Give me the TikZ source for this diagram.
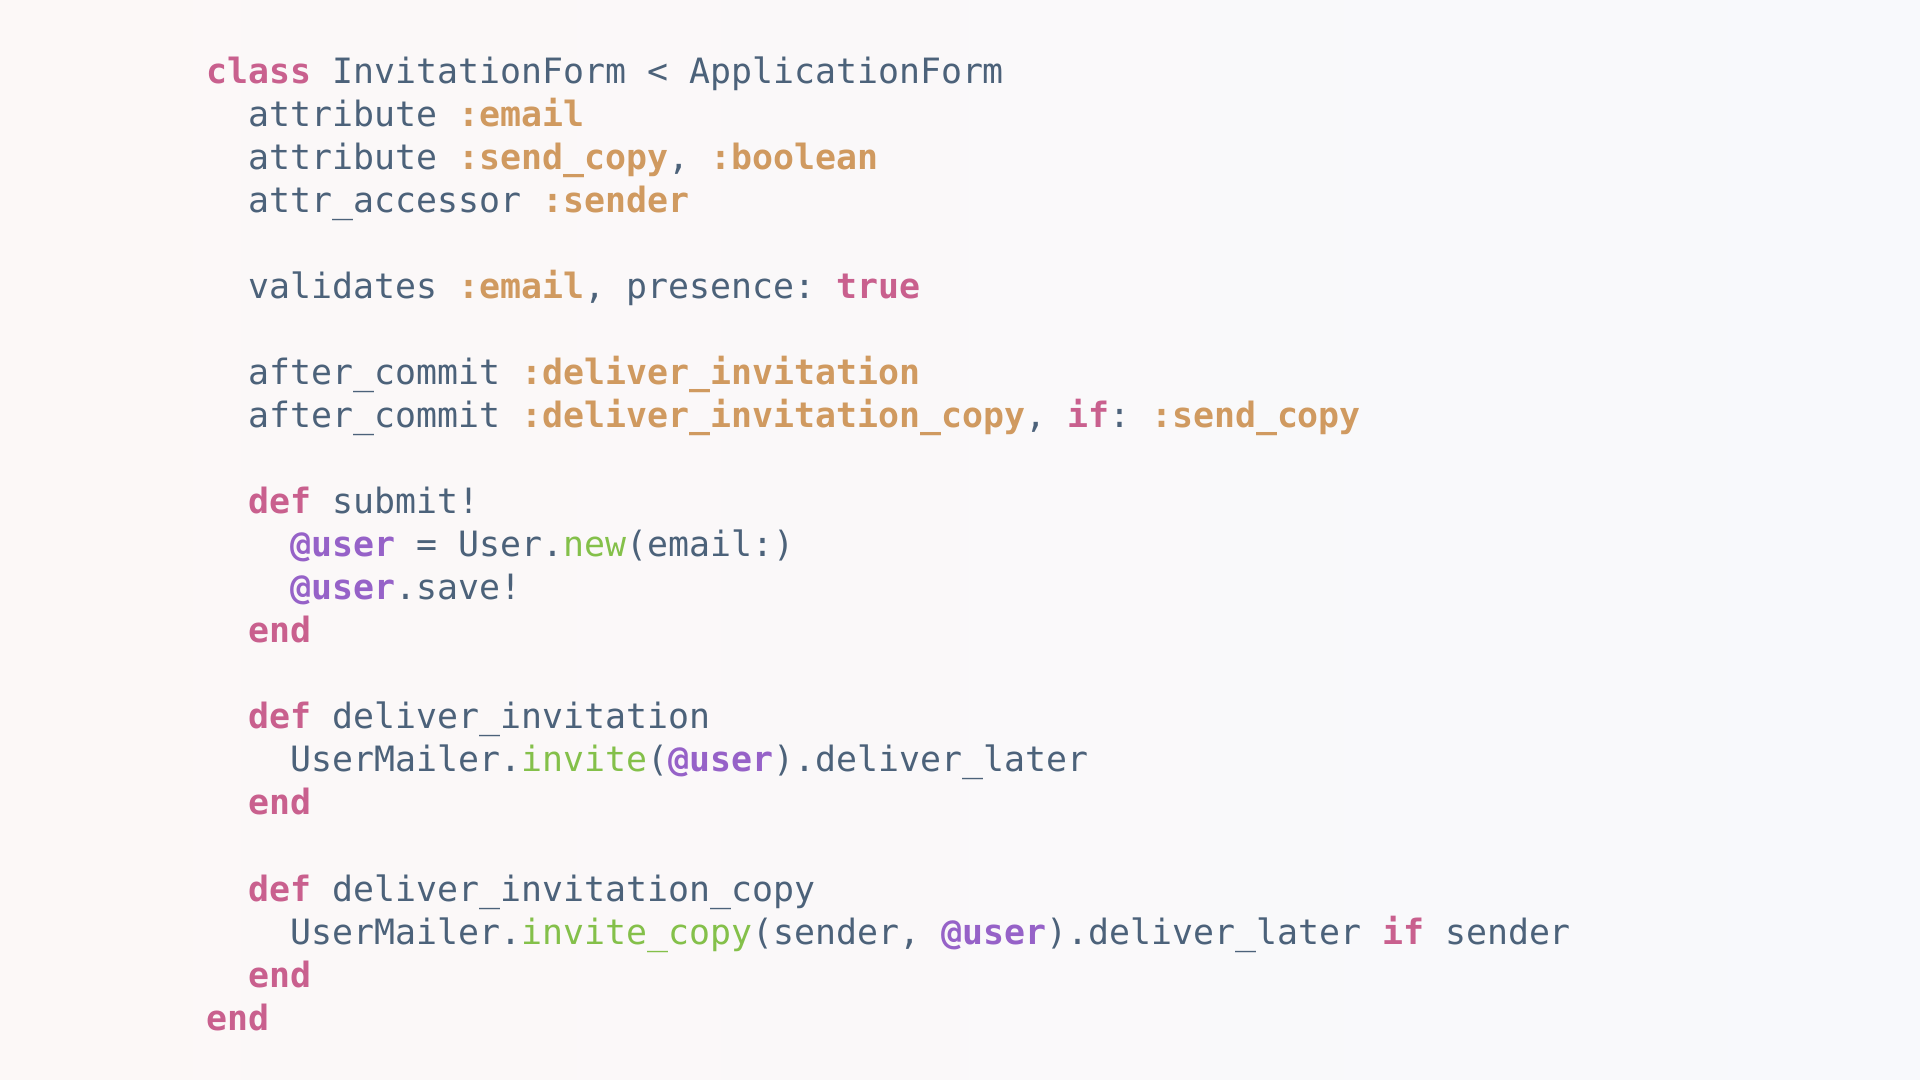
\documentclass[tikz,border=0pt]{standalone}
\usepackage{fontspec}
\setmonofont{DejaVu Sans Mono}
\definecolor{plaintxt}{RGB}{76,98,122}
\definecolor{kwpink}{RGB}{201,96,142}
\definecolor{symtan}{RGB}{208,154,96}
\definecolor{ivarpurple}{RGB}{150,98,200}
\definecolor{methgreen}{RGB}{132,192,74}
\newcommand{\kw}[1]{\textcolor{kwpink}{\bfseries #1}}
\newcommand{\sym}[1]{\textcolor{symtan}{\bfseries #1}}
\newcommand{\ivar}[1]{\textcolor{ivarpurple}{\bfseries #1}}
\newcommand{\meth}[1]{\textcolor{methgreen}{#1}}
\tikzset{codeline/.style={anchor=base west, inner sep=0pt, text=plaintxt,
    font=\ttfamily\fontsize{9.92}{12}\selectfont}}
\frenchspacing
\begin{document}
\begin{tikzpicture}
		\shade[left color={rgb,255:red,252;green,248;blue,247}, right color={rgb,255:red,248;green,249;blue,252}] (0, 0) rectangle (19.2, 10.8);
		\useasboundingbox (0, 0) rectangle (19.2, 10.8);
		\begin{scope}[shift={(2.057, 9.967)}, x=0.2104cm, y=-0.4304cm]
		\node[codeline] (classline) at (0, 0) {\kw{class} InvitationForm < ApplicationForm};
		\node[codeline] (attremail) at (2, 1) {attribute \sym{:email}};
		\node[codeline] (attrcopy) at (2, 2) {attribute \sym{:send\_copy}, \sym{:boolean}};
		\node[codeline] (accessor) at (2, 3) {attr\_accessor \sym{:sender}};
		\node[codeline] (validates) at (2, 5) {validates \sym{:email}, presence: \kw{true}};
		\node[codeline] (commitone) at (2, 7) {after\_commit \sym{:deliver\_invitation}};
		\node[codeline] (committwo) at (2, 8) {after\_commit \sym{:deliver\_invitation\_copy}, \kw{if}: \sym{:send\_copy}};
		\node[codeline] (defsubmit) at (2, 10) {\kw{def} submit!};
		\node[codeline] (usernew) at (4, 11) {\ivar{@user} = User.\meth{new}(email:)};
		\node[codeline] (usersave) at (4, 12) {\ivar{@user}.save!};
		\node[codeline] (endsubmit) at (2, 13) {\kw{end}};
		\node[codeline] (definvite) at (2, 15) {\kw{def} deliver\_invitation};
		\node[codeline] (invite) at (4, 16) {UserMailer.\meth{invite}(\ivar{@user}).deliver\_later};
		\node[codeline] (endinvite) at (2, 17) {\kw{end}};
		\node[codeline] (defcopy) at (2, 19) {\kw{def} deliver\_invitation\_copy};
		\node[codeline] (invitecopy) at (4, 20) {UserMailer.\meth{invite\_copy}(sender, \ivar{@user}).deliver\_later \kw{if} sender};
		\node[codeline] (endcopy) at (2, 21) {\kw{end}};
		\node[codeline] (endclass) at (0, 22) {\kw{end}};
		\end{scope}
\end{tikzpicture}
\end{document}
